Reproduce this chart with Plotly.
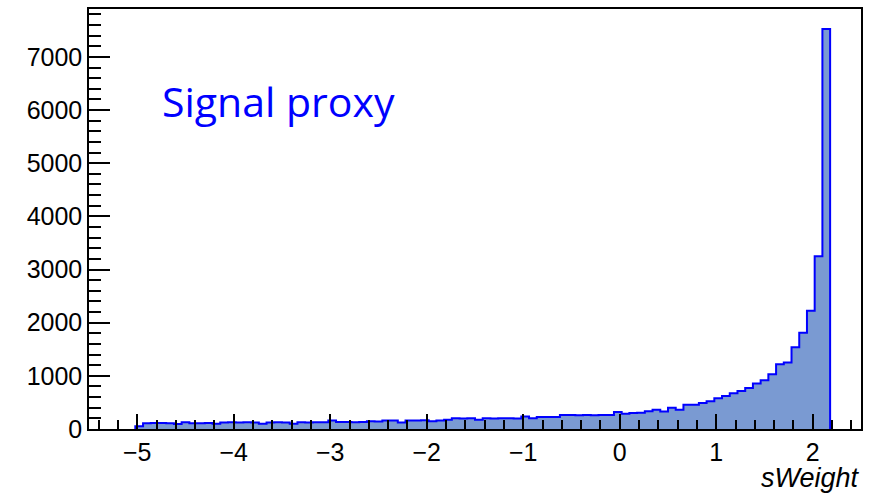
import plotly.graph_objects as go

# Histogram binning: 100 bins spanning the x range, filled bins start at bin 6
x_lo, x_hi, n_bins = -5.5, 2.5, 100
first_bin = 6

# Entries per bin (bins 6 .. 95)
counts = [
    50, 110, 112, 112, 110, 95, 125, 108, 110, 112,
    98, 124, 126, 124, 125, 122, 100, 124, 126, 122,
    100, 125, 124, 126, 125, 160, 130, 132, 128, 131,
    145, 143, 160, 158, 124, 162, 160, 163, 145, 162,
    175, 200, 198, 202, 175, 200, 198, 202, 200, 199,
    237, 200, 225, 226, 224, 262, 262, 260, 262, 261,
    263, 262, 319, 285, 300, 305, 335, 360, 330, 400,
    360, 455, 455, 490, 520, 580, 620, 672, 715, 770,
    855, 915, 1030, 1220, 1250, 1540, 1810, 2225, 3250, 7525,
]

x_title = "sWeight"
label_text = "Signal proxy"

width = (x_hi - x_lo) / n_bins
edges = [x_lo + (first_bin + i) * width for i in range(len(counts) + 1)]

# Step outline: rise at the first edge, follow every bin top, drop at the last edge
step_x = [edges[0]] + edges[:-1] + [edges[-1]]
step_y = [0] + counts + [0]

fig = go.Figure()
fig.add_trace(go.Scatter(
    x=step_x, y=step_y,
    mode="lines",
    line=dict(shape="hv", color="#0000ff", width=2),
    fill="tozeroy",
    fillcolor="#7a9ad2",
    hoverinfo="skip",
    showlegend=False,
))

tick_font = dict(family="Liberation Sans, Arial, sans-serif", size=25, color="#000000")

fig.update_xaxes(
    range=[x_lo, x_hi],
    tick0=0, dtick=1,
    ticks="inside", ticklen=15, tickwidth=1.5, tickcolor="black",
    minor=dict(dtick=0.2, tick0=0, ticks="inside", ticklen=9, tickwidth=1.5, tickcolor="black"),
    showline=True, linecolor="black", linewidth=1.5, mirror=True,
    showgrid=False, zeroline=False,
    tickfont=tick_font,
)
fig.update_yaxes(
    range=[0, 1.05 * max(counts)],
    tick0=0, dtick=1000,
    ticks="inside", ticklen=21, tickwidth=1.5, tickcolor="black",
    minor=dict(dtick=200, tick0=0, ticks="inside", ticklen=12, tickwidth=1.5, tickcolor="black"),
    showline=True, linecolor="black", linewidth=1.5, mirror=True,
    showgrid=False, zeroline=False,
    tickfont=tick_font,
)

fig.add_annotation(
    text=f"<i>{x_title}</i>",
    xref="paper", yref="paper", x=1.0, y=-0.116,
    xanchor="right", yanchor="middle",
    showarrow=False, borderpad=0,
    font=dict(family="Liberation Sans, Arial, sans-serif", size=27, color="#000000"),
)
fig.add_annotation(
    text=label_text,
    xref="paper", yref="paper", x=0.092, y=0.782,
    xanchor="left", yanchor="middle",
    showarrow=False,
    font=dict(family="Open Sans, sans-serif", size=41, color="#0000ff"),
)

fig.update_layout(
    width=886, height=493,
    margin=dict(l=89, r=25, t=7, b=64),
    paper_bgcolor="white", plot_bgcolor="white",
)

fig.write_html("out.html")
